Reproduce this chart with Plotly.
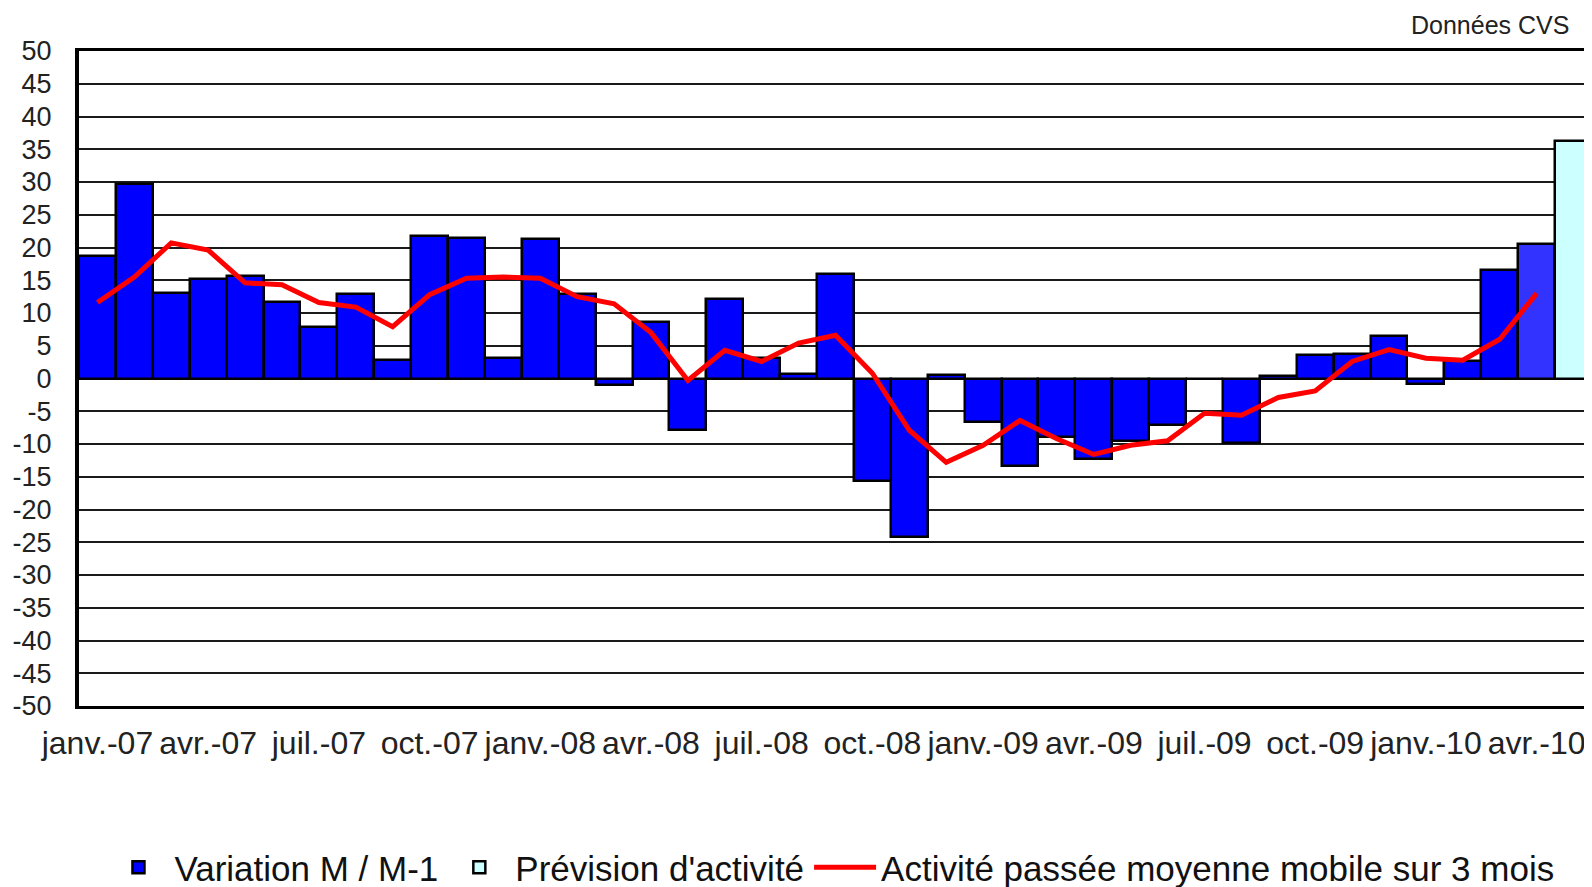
import plotly.graph_objects as go

# categories: monthly, janv.-07 .. mai-10
month_abbr = ["janv.", "févr.", "mars", "avr.", "mai", "juin",
              "juil.", "août", "sept.", "oct.", "nov.", "déc."]
years = ["07", "08", "09", "10"]
months = [m + "-" + y for y in years for m in month_abbr][:41]

tick_labels = ["janv.-07", "avr.-07", "juil.-07", "oct.-07", "janv.-08", "avr.-08",
               "juil.-08", "oct.-08", "janv.-09", "avr.-09", "juil.-09", "oct.-09",
               "janv.-10", "avr.-10"]

y_ticks = list(range(-50, 55, 5))
y_tick_text = [str(v) for v in y_ticks]  # plain hyphen, as in the source

variation = [18.7, 29.7, 13.1, 15.2, 15.6, 11.7, 7.9, 12.9, 2.8, 21.7,
             21.4, 3.2, 21.3, 12.9, -1.0, 8.7, -7.8, 12.1, 3.1, 0.7,
             16.0, -15.7, -24.2, 0.5, -6.6, -13.4, -9.0, -12.3, -9.5, -7.1,
             0.0, -9.9, 0.4, 3.6, 3.7, 6.5, -0.9, 2.6, 16.6, 20.5]

prevision = [36.3]  # mai-10

moyenne_mobile = [11.6, 15.5, 20.7, 19.6, 14.6, 14.3, 11.6, 10.9, 7.9, 12.8,
                  15.3, 15.5, 15.3, 12.5, 11.4, 7.0, -0.3, 4.3, 2.6, 5.4,
                  6.6, 0.8, -7.9, -12.8, -10.2, -6.4, -9.2, -11.6, -10.2, -9.5,
                  -5.3, -5.6, -2.9, -1.9, 2.6, 4.4, 3.1, 2.8, 6.0, 13.0]

FONT = "Arial, Liberation Sans, sans-serif"

# last observed month drawn a bit lighter
bar_colors = ["#0000FF"] * len(variation)
bar_colors[-1] = "#3333FF"

fig = go.Figure()
fig.add_trace(go.Bar(
    x=months[:len(variation)], y=variation,
    name="Variation M / M-1",
    marker=dict(color=bar_colors, line=dict(color="black", width=2.5)),
))
fig.add_trace(go.Bar(
    x=months[len(variation):], y=prevision,
    name="Prévision d'activité",
    marker=dict(color="#CCFFFF", line=dict(color="black", width=2.5)),
))
fig.add_trace(go.Scatter(
    x=months[:len(moyenne_mobile)], y=moyenne_mobile,
    mode="lines", name="Activité passée moyenne mobile sur 3 mois",
    line=dict(color="#FF0000", width=5),
))

# the page body keeps its default 8px margin, so the margins below are
# shifted by 8px to land the plot area where the original sits
fig.update_layout(
    width=1592, height=887,
    margin=dict(l=71, r=8, t=43, b=189),
    paper_bgcolor="white", plot_bgcolor="white",
    barmode="overlay", bargap=0,
    font=dict(family=FONT, color="#222222"),
    showlegend=True,
    legend=dict(orientation="h", x=0.497, xanchor="center",
                yref="container", y=0.031, yanchor="middle",
                font=dict(size=35, color="#111111"), itemwidth=62,
                traceorder="normal"),
    annotations=[dict(text="Données CVS", xref="paper", yref="paper",
                      x=0.986, y=1.04, xanchor="right", yanchor="middle",
                      showarrow=False, font=dict(size=25, color="#222222"))],
)
fig.update_xaxes(
    type="category", categoryorder="array", categoryarray=months,
    tickvals=tick_labels, ticktext=tick_labels,
    tickfont=dict(size=32), ticks="", ticklabelstandoff=7, automargin=False,
    showgrid=False, showline=True, linecolor="black", linewidth=3, mirror=True,
)
fig.update_yaxes(
    range=[-50, 50], tickvals=y_ticks, ticktext=y_tick_text,
    tickfont=dict(size=27), ticks="", ticklabelstandoff=18, automargin=False,
    showgrid=True, gridcolor="#1a1a1a", gridwidth=1.5,
    zeroline=False,
    showline=True, linecolor="black", linewidth=4, mirror=True,
)

fig.write_html("out.html")
